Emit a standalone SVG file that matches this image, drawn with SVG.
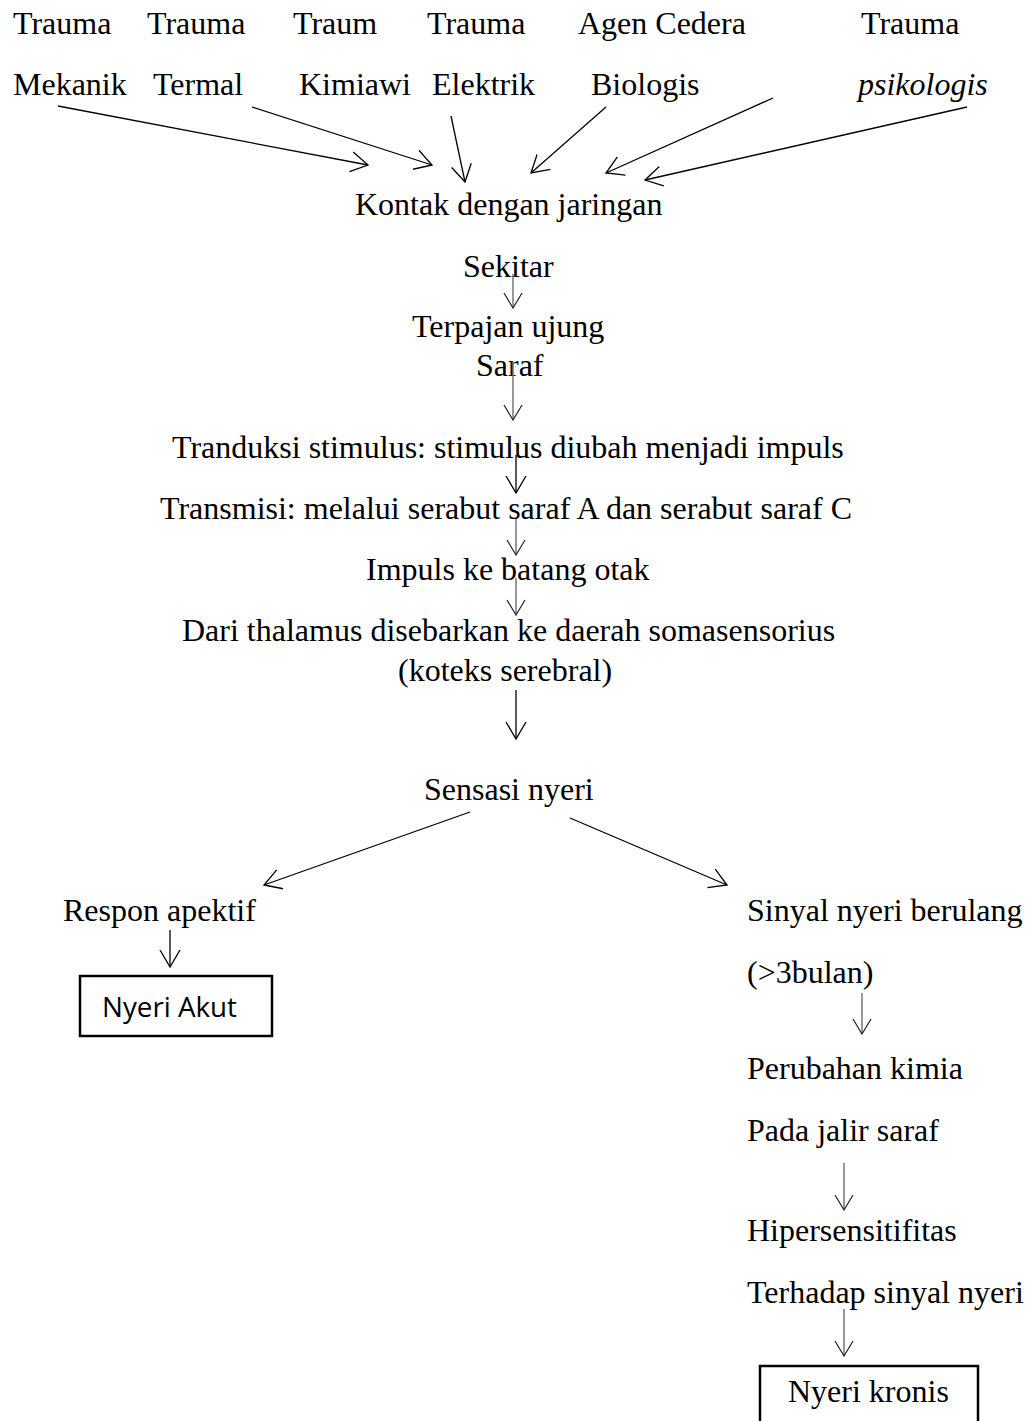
<svg xmlns="http://www.w3.org/2000/svg" width="1031" height="1421" viewBox="0 0 1031 1421">
<style>
  text { font-family: "Liberation Serif", "Times New Roman", serif; font-size: 32px; fill: #000; }
  .it { font-style: italic; }
  .sans { font-family: "Open Sans", "Liberation Sans", sans-serif; font-size: 28px; }
  .ln { stroke: #000; stroke-width: 1.3; fill: none; marker-end: url(#ah); }
  .lg { stroke: #777; stroke-width: 1.5; fill: none; marker-end: url(#ahg); }
  .box { fill: #fff; stroke: #000; stroke-width: 2.5; }
</style>
<defs>
  <marker id="ah" markerUnits="userSpaceOnUse" markerWidth="18" markerHeight="22" viewBox="0 0 18 22" refX="17" refY="11" orient="auto">
    <path d="M0,1 L17,11 L0,21" fill="none" stroke="#000" stroke-width="1.3"/>
  </marker>
  <marker id="ahg" markerUnits="userSpaceOnUse" markerWidth="18" markerHeight="22" viewBox="0 0 18 22" refX="17" refY="11" orient="auto">
    <path d="M2,2 L17,11 L2,20" fill="none" stroke="#222" stroke-width="1.2"/>
  </marker>
</defs>
<rect width="1031" height="1421" fill="#fff"/>

<g id="n-mekanik"><text x="13" y="34">Trauma</text><text x="13" y="95">Mekanik</text></g>
<g id="n-termal"><text x="147" y="34">Trauma</text><text x="153" y="95">Termal</text></g>
<g id="n-kimiawi"><text x="293" y="34">Traum</text><text x="299" y="95">Kimiawi</text></g>
<g id="n-elektrik"><text x="427" y="34">Trauma</text><text x="432" y="95">Elektrik</text></g>
<g id="n-biologis"><text x="578" y="34">Agen Cedera</text><text x="591" y="95">Biologis</text></g>
<g id="n-psikologis"><text x="861" y="34">Trauma</text><text class="it" x="858" y="95">psikologis</text></g>

<g id="n-kontak"><text x="355" y="215">Kontak dengan jaringan</text><text x="463" y="277">Sekitar</text></g>
<g id="n-terpajan"><text x="412" y="337">Terpajan ujung</text><text x="476" y="376">Saraf</text></g>
<g id="n-tranduksi"><text x="172" y="458">Tranduksi stimulus: stimulus diubah menjadi impuls</text></g>
<g id="n-transmisi"><text x="160" y="519">Transmisi: melalui serabut saraf A dan serabut saraf C</text></g>
<g id="n-impuls"><text x="366" y="580">Impuls ke batang otak</text></g>
<g id="n-thalamus"><text x="182" y="641">Dari thalamus disebarkan ke daerah somasensorius</text><text x="398" y="681">(koteks serebral)</text></g>
<g id="n-sensasi"><text x="424" y="800">Sensasi nyeri</text></g>
<g id="n-respon"><text x="63" y="921">Respon apektif</text></g>
<g id="n-akut"><rect class="box" x="80" y="976" width="192" height="60"/><text class="sans" x="102" y="1017" textLength="135" lengthAdjust="spacingAndGlyphs">Nyeri Akut</text></g>
<g id="n-sinyal"><text x="747" y="921">Sinyal nyeri berulang</text><text x="747" y="983">(&gt;3bulan)</text></g>
<g id="n-perubahan"><text x="747" y="1079">Perubahan kimia</text><text x="747" y="1141">Pada jalir saraf</text></g>
<g id="n-hiper"><text x="747" y="1241">Hipersensitifitas</text><text x="747" y="1303">Terhadap sinyal nyeri</text></g>
<g id="n-kronis"><rect class="box" x="760" y="1366" width="218" height="80"/><text x="788" y="1402">Nyeri kronis</text></g>

<g id="connectors">
  <line class="ln" x1="58" y1="106" x2="368" y2="165"/>
  <line class="ln" x1="252" y1="107" x2="432" y2="165"/>
  <line class="ln" x1="451" y1="116" x2="465" y2="182"/>
  <line class="ln" x1="606" y1="107" x2="531" y2="173"/>
  <line class="ln" x1="773" y1="98" x2="606" y2="173"/>
  <line class="ln" x1="967" y1="107" x2="645" y2="180"/>
  <line class="lg" x1="513" y1="274" x2="513" y2="308"/>
  <line class="lg" x1="513" y1="362" x2="513" y2="420"/>
  <line class="ln" x1="516" y1="455" x2="516" y2="493"/>
  <line class="lg" x1="516" y1="519" x2="516" y2="555"/>
  <line class="lg" x1="516" y1="578" x2="516" y2="615"/>
  <line class="ln" x1="516" y1="690" x2="516" y2="739"/>
  <line class="ln" x1="470" y1="812" x2="264" y2="885"/>
  <line class="ln" x1="570" y1="818" x2="727" y2="885"/>
  <line class="ln" x1="170" y1="930" x2="170" y2="967"/>
  <line class="lg" x1="862" y1="993" x2="862" y2="1034"/>
  <line class="lg" x1="844" y1="1163" x2="844" y2="1210"/>
  <line class="lg" x1="844" y1="1309" x2="844" y2="1356"/>
</g>
</svg>
